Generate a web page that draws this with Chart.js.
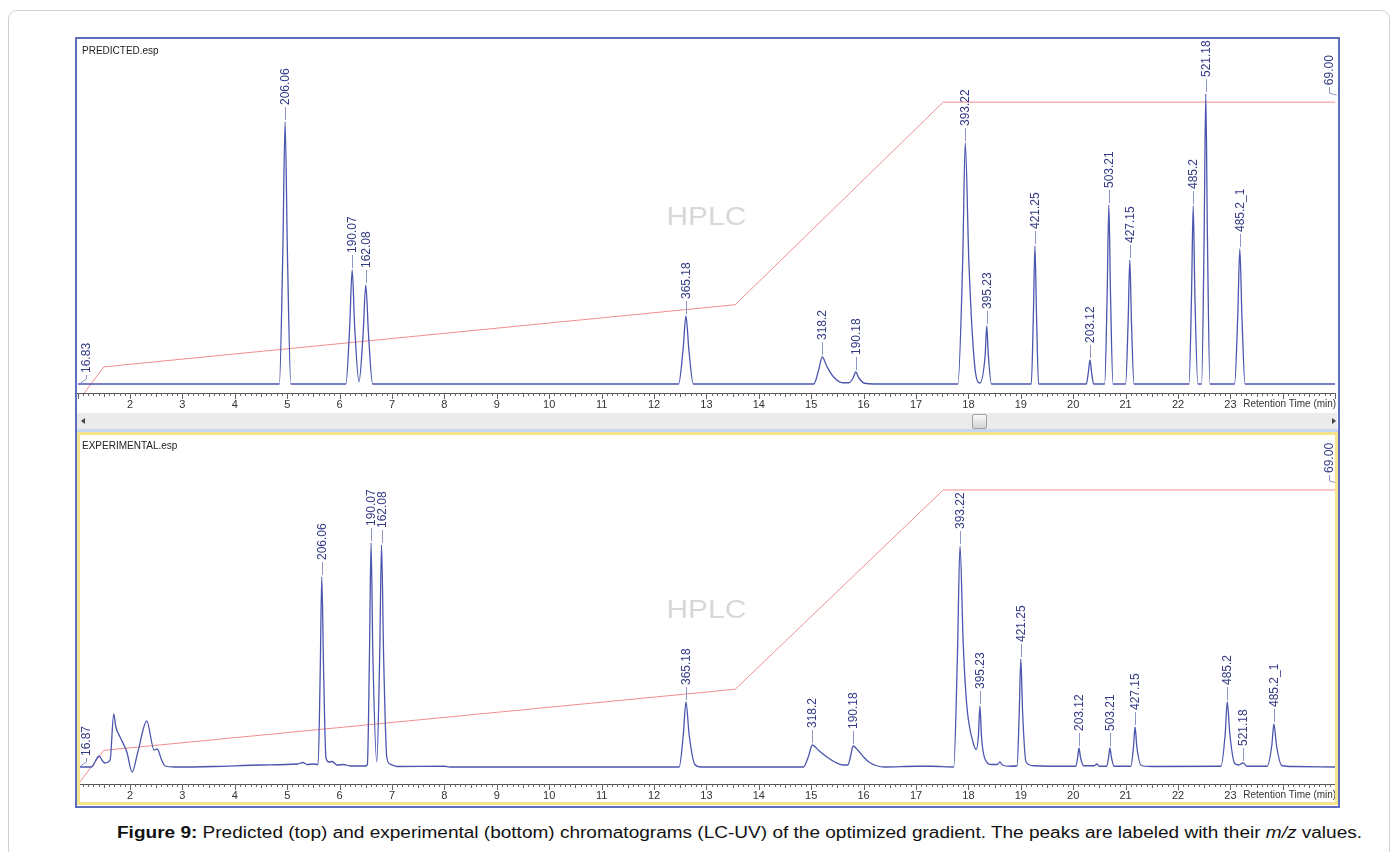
<!DOCTYPE html>
<html>
<head>
<meta charset="utf-8">
<script src="https://cdn.jsdelivr.net/npm/chart.js@4.4.0/dist/chart.umd.min.js"></script>
<style>
  html, body { margin: 0; padding: 0; background: #fff; }
  body { width: 1397px; height: 852px; position: relative; overflow: hidden;
         font-family: "Liberation Sans", Arial, sans-serif; }
  .abs { position: absolute; }
  #outer { left: 8px; top: 10px; width: 1382px; height: 870px; border: 1px solid #cfcfcf;
           border-radius: 9px; box-sizing: border-box; }
  #frame { left: 75px; top: 37px; width: 1265px; height: 771px; border: 2px solid #5f6dbf;
           box-sizing: border-box; }
  canvas { position: absolute; z-index: 1; }
  #cTop { left: 77px; top: 39px; }
  #cBot { left: 77px; top: 436px; }
  #scroll { left: 77px; top: 413px; width: 1260px; height: 16px; background: #ebebeb; }
  #sep { left: 77px; top: 429px; width: 1261px; height: 3px; background: #c9d6ef; }
  #yellow { left: 77px; top: 432px; width: 1261px; height: 373px; border: 3px solid #f6e48c;
            box-sizing: border-box; z-index: 2; pointer-events: none; }
  .arrowL { left: 81px; top: 418px; width: 0; height: 0; border-top: 3px solid transparent;
            border-bottom: 3px solid transparent; border-right: 4px solid #444; }
  .arrowR { left: 1332px; top: 418px; width: 0; height: 0; border-top: 3px solid transparent;
            border-bottom: 3px solid transparent; border-left: 4px solid #444; }
  #thumb { left: 972px; top: 414px; width: 13px; height: 13px; border: 1px solid #a2a2a2;
           border-radius: 2px; background: linear-gradient(#fafafa, #d2d2d2); }
  .title { font-size: 10px; color: #222; z-index: 3; }
  #cap { left: 117px; top: 824px; font-size: 16px; white-space: nowrap; color: #111;
         transform-origin: 0 0; }
</style>
</head>
<body>
<div id="outer" class="abs"></div>
<div id="frame" class="abs"></div>
<canvas id="cTop" width="1260" height="373"></canvas>
<div id="scroll" class="abs"></div>
<div class="abs arrowL"></div>
<div class="abs arrowR"></div>
<div id="thumb" class="abs"></div>
<div id="sep" class="abs"></div>
<canvas id="cBot" width="1260" height="367"></canvas>
<div id="yellow" class="abs"></div>
<div class="abs title" style="left:82px;top:45px;">PREDICTED.esp</div>
<div class="abs title" style="left:82px;top:440px;">EXPERIMENTAL.esp</div>
<div id="cap" class="abs"><b>Figure 9:</b> Predicted (top) and experimental (bottom) chromatograms (LC-UV) of the optimized gradient. The peaks are labeled with their <i>m/z</i> values.</div>

<script>
// ---- Predicted chromatogram: [retention time (min), UV signal] ----
const predictedTrace = [
  [1.0,0],
  [4.85,0],[4.916,52.4],[4.96,104.8],[5.004,52.4],[5.07,0],
  [6.12,0],[6.192,22.8],[6.24,45.6],[6.288,22.8],[6.37,0.9],
  [6.448,19.8],[6.50,39.6],[6.552,19.8],[6.63,0],
  [12.47,0],[12.554,13.6],[12.61,27.2],[12.666,13.6],[12.75,0],
  [15.05,0],[15.14,5.4],[15.21,10.8],[15.30,7.0],[15.42,3.0],[15.60,0.5],
  [15.72,0.5],[15.80,2.4],[15.85,4.8],[15.91,2.4],[16.02,0.3],[16.20,0],
  [17.80,0],[17.89,48.2],[17.94,96.4],[18.01,48.2],[18.14,4.0],[18.22,0.4],
  [18.32,11.6],[18.35,23.2],[18.38,11.6],[18.44,0],
  [19.20,0],[19.24,27.6],[19.27,55.2],[19.30,27.6],[19.34,0],
  [20.25,0],[20.29,4.8],[20.32,9.6],[20.35,4.8],[20.39,0],
  [20.60,0],[20.648,35.8],[20.68,71.6],[20.712,35.8],[20.76,0],
  [21.00,0],[21.048,24.8],[21.08,49.6],[21.112,24.8],[21.16,0],
  [22.21,0],[22.258,35.6],[22.29,71.2],[22.322,35.6],[22.38,0],
  [22.45,0],[22.498,58.0],[22.53,116.0],[22.562,58.0],[22.61,0],
  [23.08,0],[23.14,27.0],[23.18,54.0],[23.22,27.0],[23.28,0],
  [25.0,0]
];
const predictedPeakNames = ['206.06','190.07','162.08','365.18','318.2','190.18','393.22','395.23',
  '421.25','203.12','503.21','427.15','485.2','521.18','485.2_1'];
const predictedPeakTimes = [4.96,6.24,6.50,12.61,15.21,15.85,17.94,18.35,
  19.27,20.32,20.68,21.08,22.29,22.53,23.18];

// ---- Experimental chromatogram ----
const experimentalTrace = [
  [1.0,0],[1.27,0],[1.34,2.4],[1.41,4.4],[1.47,2.6],[1.52,1.6],[1.62,2.8],[1.69,21.2],[1.73,16.0],
  [1.81,12.0],[1.94,6.0],[2.04,-2.0],[2.15,6.0],[2.32,18.4],[2.46,6.8],[2.52,7.2],[2.60,3.0],
  [2.67,0.4],[2.85,0],[3.6,0.2],[4.5,0.8],[5.2,1.2],[5.3,1.8],[5.38,1.0],[5.5,1.2],[5.59,1.0],
  [5.63,38.0],[5.66,76.0],[5.695,38.0],[5.74,3.6],[5.80,2.0],[5.86,2.2],[5.95,0.8],[6.08,1.0],
  [6.2,0.4],[6.50,0.4],
  [6.53,1.0],[6.57,44.8],[6.60,89.6],[6.635,44.8],[6.71,2.1],
  [6.765,44.4],[6.80,88.8],[6.84,44.4],[6.90,4.0],[6.96,1.2],[7.1,0.2],
  [8.0,0.3],[8.1,0],
  [12.48,0],[12.56,13.0],[12.61,26.0],[12.67,13.0],[12.78,1.0],[12.9,0],
  [14.85,0],[14.95,4.4],[15.02,8.8],[15.15,6.5],[15.30,4.0],[15.45,2.0],[15.60,0.8],[15.70,0.8],
  [15.75,4.2],[15.80,8.4],[15.90,6.5],[16.00,4.0],[16.10,2.0],[16.25,0.5],[16.40,0],
  [17.0,0.3],[17.3,0.3],
  [17.72,0],[17.79,44.0],[17.84,88.4],[17.90,50.0],[17.95,30.0],[18.00,18.8],[18.10,9.0],[18.15,7.0],
  [18.19,12.2],[18.22,24.4],[18.25,12.0],[18.32,3.0],[18.45,1.0],[18.55,1.0],[18.60,2.0],[18.65,0.8],
  [18.80,0.3],
  [18.93,0.5],[18.97,21.6],[19.00,43.2],[19.035,21.6],[19.10,2.0],[19.25,0.5],
  [20.05,0.3],[20.085,3.8],[20.11,7.6],[20.14,3.8],[20.20,0.5],[20.40,0.5],[20.45,1.2],[20.50,0.3],
  [20.64,0.3],[20.675,3.8],[20.70,7.6],[20.73,3.8],[20.78,0.3],
  [21.10,0.3],[21.15,8.0],[21.18,16.0],[21.215,8.0],[21.30,0.6],[21.50,0.2],
  [22.82,0.3],[22.90,13.0],[22.94,26.0],[22.99,13.0],[23.08,1.5],[23.16,0.8],[23.24,1.6],[23.32,0.3],
  [23.70,0.3],[23.79,8.6],[23.83,17.2],[23.88,8.6],[23.98,0.6],[24.2,0.2],[25.0,0]
];
const experimentalPeakNames = ['206.06','190.07','162.08','365.18','318.2','190.18','393.22','395.23',
  '421.25','203.12','503.21','427.15','485.2','521.18','485.2_1'];
const experimentalPeakTimes = [5.66,6.60,6.80,12.61,15.02,15.80,17.84,18.22,
  19.00,20.11,20.70,21.18,22.94,23.24,23.83];

// ---- Mobile phase gradient (%B) ----
const gradientTime = [1.0, 1.5, 13.55, 17.52, 25.0];
const gradientPercentB = [13.5, 20.0, 31.5, 69.0, 69.0];
const predictedGradientEnds = [16.83, 69.00];
const experimentalGradientEnds = [16.87, 69.00];

// ---- Time axis ----
const timeTickLabels = [2,3,4,5,6,7,8,9,10,11,12,13,14,15,16,17,18,19,20,21,22,23];
const timeAxisTitle = 'Retention Time (min)';

const FONT = '"Liberation Sans", Arial, sans-serif';
const TRACE = '#4b55ae';
const LABEL = '#343a86';
const LEADER = '#8d94c6';

const decor = {
  id: 'decor',
  beforeDatasetsDraw(chart, args, o) {
    const {ctx, chartArea: a} = chart;
    ctx.save();
    ctx.translate((a.left + a.right) / 2, (a.top + a.bottom) / 2);
    ctx.scale(1.15, 1);
    ctx.font = '26px ' + FONT;
    ctx.fillStyle = '#d8d8d8';
    ctx.textAlign = 'center';
    ctx.textBaseline = 'middle';
    ctx.fillText('HPLC', 0, 0);
    ctx.restore();
  },
  afterDatasetsDraw(chart, args, o) {
    const {ctx} = chart;
    const xs = chart.scales.x, ys = chart.scales.y, y2 = chart.scales.y2;
    const pts = chart.data.datasets[0].data;
    ctx.save();
    ctx.font = '12px ' + FONT;
    ctx.lineWidth = 1;
    // peak labels with leader lines
    o.times.forEach((t, i) => {
      const p = pts.find(d => d.x === t);
      const x = Math.round(xs.getPixelForValue(p.x)) + 0.5;
      const y = ys.getPixelForValue(p.y);
      ctx.strokeStyle = LEADER;
      ctx.beginPath(); ctx.moveTo(x, y - 2); ctx.lineTo(x, y - 15); ctx.stroke();
      ctx.save();
      ctx.translate(x + 0.5, y - 17);
      ctx.rotate(-Math.PI / 2);
      ctx.fillStyle = LABEL; ctx.textAlign = 'left'; ctx.textBaseline = 'middle';
      ctx.fillText(o.names[i], 0, 0);
      ctx.restore();
    });
    // gradient range markers
    const lo = o.gradEnds[0], hi = o.gradEnds[1];
    let px = Math.round(xs.left + 8) + 0.5, py = y2.getPixelForValue(lo);
    ctx.strokeStyle = LEADER;
    ctx.beginPath(); ctx.moveTo(px, py - 9); ctx.lineTo(px, py - 5); ctx.lineTo(px - 6, py - 1); ctx.stroke();
    ctx.save(); ctx.translate(px + 0.5, py - 11); ctx.rotate(-Math.PI / 2);
    ctx.fillStyle = LABEL; ctx.textAlign = 'left'; ctx.textBaseline = 'middle';
    ctx.fillText(lo.toFixed(2), 0, 0); ctx.restore();
    px = Math.round(xs.right - 6) + 0.5; py = y2.getPixelForValue(hi);
    ctx.beginPath(); ctx.moveTo(px, py - 15); ctx.lineTo(px, py - 9); ctx.lineTo(px + 7, py - 7); ctx.stroke();
    ctx.save(); ctx.translate(px + 0.5, py - 17); ctx.rotate(-Math.PI / 2);
    ctx.fillStyle = LABEL; ctx.textAlign = 'left'; ctx.textBaseline = 'middle';
    ctx.fillText(hi.toFixed(2), 0, 0); ctx.restore();
    ctx.restore();
  },
  afterDraw(chart) {
    const {ctx} = chart;
    const xs = chart.scales.x;
    const top = Math.round(xs.top);
    ctx.save();
    ctx.strokeStyle = '#666'; ctx.lineWidth = 1;
    ctx.beginPath();
    for (let i = Math.ceil(xs.min * 10); i <= Math.floor(xs.max * 10 + 1e-6); i++) {
      const x = Math.round(xs.getPixelForValue(i / 10)) + 0.5;
      const len = i % 10 === 0 ? 6 : (i % 5 === 0 ? 4 : 3);
      ctx.moveTo(x, top); ctx.lineTo(x, top + len);
    }
    ctx.stroke();
    ctx.font = '10px ' + FONT;
    ctx.fillStyle = '#333';
    ctx.textAlign = 'right'; ctx.textBaseline = 'top';
    ctx.fillText(timeAxisTitle, xs.right + 1, top + 6);
    ctx.restore();
  }
};

function panel(id, trace, names, times, gradEnds, yRange, y2Range, padTop) {
  return new Chart(document.getElementById(id), {
    type: 'line',
    data: {
      datasets: [
        {
          data: trace.map(([x, y]) => ({x, y})),
          borderColor: TRACE, borderWidth: 1.3, pointRadius: 0,
          cubicInterpolationMode: 'monotone', fill: false, yAxisID: 'y', order: 0
        },
        {
          data: gradientTime.map((x, i) => ({x, y: gradientPercentB[i]})),
          borderColor: '#f38e8e', borderWidth: 1, pointRadius: 0,
          tension: 0, fill: false, yAxisID: 'y2', order: 1
        }
      ]
    },
    options: {
      responsive: false, animation: false, devicePixelRatio: 1,
      layout: {padding: {left: 0.6, right: 1.8, top: padTop, bottom: 0}},
      plugins: {
        legend: {display: false}, tooltip: {enabled: false},
        decor: {names, times, gradEnds}
      },
      scales: {
        x: {
          type: 'linear', min: 1, max: 25,
          afterFit(s) { s.height = 19; s.paddingLeft = 0; s.paddingRight = 0; },
          grid: {display: false, drawTicks: false},
          border: {display: true, color: '#555', width: 1},
          ticks: {
            stepSize: 1, autoSkip: false, maxRotation: 0, padding: 5,
            color: '#333', font: {family: FONT, size: 11},
            callback: v => timeTickLabels.includes(v) ? String(v) : ''
          }
        },
        y: {display: false, min: yRange[0], max: yRange[1]},
        y2: {display: false, min: y2Range[0], max: y2Range[1]}
      }
    },
    plugins: [decor]
  });
}

panel('cTop', predictedTrace, predictedPeakNames, predictedPeakTimes, predictedGradientEnds,
      [-3.6, 136.8], [15.16, 80.13], 3);
panel('cBot', experimentalTrace, experimentalPeakNames, experimentalPeakTimes, experimentalGradientEnds,
      [-6.8, 132.0], [13.67, 78.97], 1);

const cap = document.getElementById('cap');
cap.style.transform = 'scaleX(' + (1245 / cap.getBoundingClientRect().width) + ')';
</script>
</body>
</html>
